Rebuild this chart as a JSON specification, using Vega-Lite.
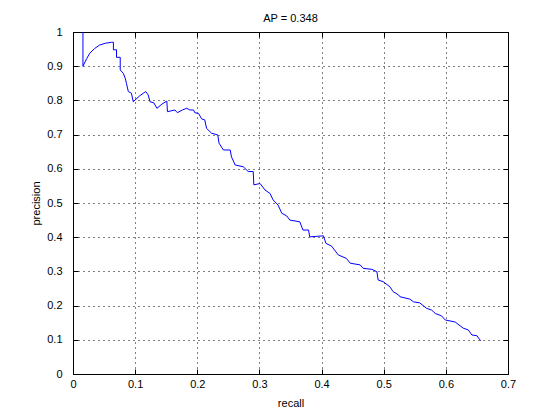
{
  "$schema": "https://vega.github.io/schema/vega-lite/v6.json",
  "autosize": "none",
  "width": 435,
  "height": 342,
  "padding": {"left": 73, "top": 32, "right": 52, "bottom": 46},
  "background": "white",
  "config": {
    "font": "Liberation Sans",
    "view": {"stroke": "black", "strokeWidth": 1},
    "axis": {
      "labelFont": "Liberation Sans", "labelFontSize": 11, "labelColor": "black",
      "titleFont": "Liberation Sans", "titleFontSize": 11, "titleColor": "black", "titleFontWeight": "normal",
      "domainColor": "black", "tickColor": "black", "tickSize": -5,
      "gridColor": "black", "gridDash": [1, 4], "gridOpacity": 1, "gridWidth": 1
    }
  },
  "title": {"text": "AP = 0.348", "fontSize": 11, "fontWeight": "normal", "font": "Liberation Sans", "color": "black", "offset": 2},
  "data": {"values": [
    {"recall": 0.016, "precision": 1.0},
    {"recall": 0.016, "precision": 0.9},
    {"recall": 0.022, "precision": 0.922},
    {"recall": 0.027, "precision": 0.938},
    {"recall": 0.035, "precision": 0.952},
    {"recall": 0.043, "precision": 0.962},
    {"recall": 0.052, "precision": 0.967},
    {"recall": 0.062, "precision": 0.970},
    {"recall": 0.065, "precision": 0.970},
    {"recall": 0.065, "precision": 0.948},
    {"recall": 0.070, "precision": 0.948},
    {"recall": 0.070, "precision": 0.926},
    {"recall": 0.076, "precision": 0.926},
    {"recall": 0.076, "precision": 0.889},
    {"recall": 0.081, "precision": 0.879},
    {"recall": 0.084, "precision": 0.865},
    {"recall": 0.086, "precision": 0.850},
    {"recall": 0.089, "precision": 0.826},
    {"recall": 0.094, "precision": 0.821},
    {"recall": 0.097, "precision": 0.796},
    {"recall": 0.107, "precision": 0.813},
    {"recall": 0.117, "precision": 0.826},
    {"recall": 0.121, "precision": 0.816},
    {"recall": 0.124, "precision": 0.796},
    {"recall": 0.130, "precision": 0.793},
    {"recall": 0.135, "precision": 0.777},
    {"recall": 0.143, "precision": 0.789},
    {"recall": 0.151, "precision": 0.798},
    {"recall": 0.152, "precision": 0.767},
    {"recall": 0.164, "precision": 0.772},
    {"recall": 0.168, "precision": 0.764},
    {"recall": 0.176, "precision": 0.772},
    {"recall": 0.183, "precision": 0.777},
    {"recall": 0.188, "precision": 0.772},
    {"recall": 0.194, "precision": 0.772},
    {"recall": 0.196, "precision": 0.764},
    {"recall": 0.202, "precision": 0.762},
    {"recall": 0.207, "precision": 0.746},
    {"recall": 0.212, "precision": 0.743},
    {"recall": 0.215, "precision": 0.718},
    {"recall": 0.223, "precision": 0.704},
    {"recall": 0.233, "precision": 0.699},
    {"recall": 0.235, "precision": 0.675},
    {"recall": 0.242, "precision": 0.655},
    {"recall": 0.253, "precision": 0.655},
    {"recall": 0.255, "precision": 0.635},
    {"recall": 0.261, "precision": 0.611},
    {"recall": 0.274, "precision": 0.606},
    {"recall": 0.282, "precision": 0.592},
    {"recall": 0.290, "precision": 0.592},
    {"recall": 0.291, "precision": 0.553},
    {"recall": 0.301, "precision": 0.557},
    {"recall": 0.309, "precision": 0.538},
    {"recall": 0.317, "precision": 0.528},
    {"recall": 0.322, "precision": 0.509},
    {"recall": 0.330, "precision": 0.494},
    {"recall": 0.336, "precision": 0.470},
    {"recall": 0.344, "precision": 0.462},
    {"recall": 0.349, "precision": 0.450},
    {"recall": 0.365, "precision": 0.445},
    {"recall": 0.370, "precision": 0.421},
    {"recall": 0.379, "precision": 0.421},
    {"recall": 0.381, "precision": 0.401},
    {"recall": 0.403, "precision": 0.404},
    {"recall": 0.407, "precision": 0.382},
    {"recall": 0.416, "precision": 0.374},
    {"recall": 0.427, "precision": 0.348},
    {"recall": 0.440, "precision": 0.338},
    {"recall": 0.446, "precision": 0.324},
    {"recall": 0.462, "precision": 0.319},
    {"recall": 0.467, "precision": 0.309},
    {"recall": 0.481, "precision": 0.306},
    {"recall": 0.489, "precision": 0.299},
    {"recall": 0.491, "precision": 0.275},
    {"recall": 0.499, "precision": 0.270},
    {"recall": 0.510, "precision": 0.255},
    {"recall": 0.515, "precision": 0.241},
    {"recall": 0.524, "precision": 0.231},
    {"recall": 0.526, "precision": 0.226},
    {"recall": 0.542, "precision": 0.219},
    {"recall": 0.548, "precision": 0.211},
    {"recall": 0.558, "precision": 0.208},
    {"recall": 0.569, "precision": 0.192},
    {"recall": 0.577, "precision": 0.187},
    {"recall": 0.583, "precision": 0.177},
    {"recall": 0.593, "precision": 0.170},
    {"recall": 0.599, "precision": 0.158},
    {"recall": 0.615, "precision": 0.152},
    {"recall": 0.628, "precision": 0.134},
    {"recall": 0.636, "precision": 0.129},
    {"recall": 0.642, "precision": 0.114},
    {"recall": 0.650, "precision": 0.112},
    {"recall": 0.656, "precision": 0.097}
  ]},
  "layer": [
    {
      "mark": {"type": "line", "color": "#0000FF", "strokeWidth": 1, "interpolate": "linear"},
      "encoding": {
        "x": {"field": "recall", "type": "quantitative", "scale": {"domain": [0, 0.7], "nice": false, "zero": false},
              "axis": {"orient": "bottom", "title": "recall", "values": [0, 0.1, 0.2, 0.3, 0.4, 0.5, 0.6, 0.7], "format": "~g", "labelPadding": 9, "titlePadding": 8, "labelFlush": false}},
        "y": {"field": "precision", "type": "quantitative", "scale": {"domain": [0, 1], "nice": false},
              "axis": {"orient": "left", "title": "precision", "values": [0, 0.1, 0.2, 0.3, 0.4, 0.5, 0.6, 0.7, 0.8, 0.9, 1], "format": "~g", "labelPadding": 16, "titlePadding": 5, "labelFlush": false}},
        "order": {"field": "recall", "type": "quantitative"}
      }
    },
    {
      "mark": {"type": "point", "opacity": 0},
      "encoding": {
        "x": {"field": "recall", "type": "quantitative", "scale": {"domain": [0, 0.7], "nice": false, "zero": false},
              "axis": {"orient": "top", "title": null, "labels": false, "grid": false, "values": [0, 0.1, 0.2, 0.3, 0.4, 0.5, 0.6, 0.7]}},
        "y": {"field": "precision", "type": "quantitative", "scale": {"domain": [0, 1], "nice": false},
              "axis": {"orient": "right", "title": null, "labels": false, "grid": false, "values": [0, 0.1, 0.2, 0.3, 0.4, 0.5, 0.6, 0.7, 0.8, 0.9, 1]}}
      }
    }
  ],
  "resolve": {"axis": {"x": "independent", "y": "independent"}}
}
